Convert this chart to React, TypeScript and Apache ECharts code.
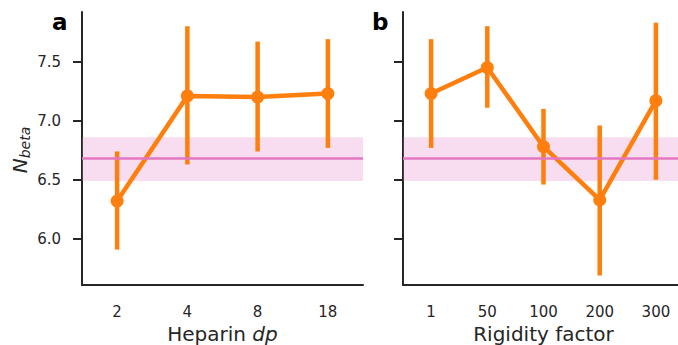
import React, { useEffect, useRef } from "react";
import * as echarts from "echarts";

// Panel a: heparin degree of polymerisation
const heparinDp = ["2", "4", "8", "18"];
const heparinMean = [6.32, 7.21, 7.2, 7.23];
const heparinLow = [5.91, 6.63, 6.74, 6.77];
const heparinHigh = [6.74, 7.8, 7.67, 7.69];

// Panel b: rigidity factor
const rigidity = ["1", "50", "100", "200", "300"];
const rigidityMean = [7.23, 7.45, 6.78, 6.33, 7.17];
const rigidityLow = [6.77, 7.11, 6.46, 5.69, 6.5];
const rigidityHigh = [7.69, 7.8, 7.1, 6.96, 7.83];

// Reference level with its band
const refMean = 6.68;
const refLow = 6.49;
const refHigh = 6.86;

const yTicks = [6.0, 6.5, 7.0, 7.5];
const yMin = 5.61;
const yMax = 7.92;

const ORANGE = "#ff7f0e";
const PINK = "#e377c2";
const INK = "#262626";
const FONT = "DejaVu Sans";

function errorBarSeries(idx: number, low: number[], high: number[]) {
  return {
    type: "custom",
    xAxisIndex: idx,
    yAxisIndex: idx,
    z: 3,
    silent: true,
    encode: { x: 0, y: [1, 2] },
    data: low.map((lo, i) => [i, lo, high[i]]),
    renderItem: (_params: any, api: any) => {
      const i = api.value(0);
      const a = api.coord([i, api.value(1)]);
      const b = api.coord([i, api.value(2)]);
      return {
        type: "line",
        shape: { x1: a[0], y1: a[1], x2: b[0], y2: b[1] },
        style: { stroke: ORANGE, lineWidth: 4.5 },
      };
    },
  };
}

function refSeries(idx: number, n: number) {
  return {
    type: "line",
    xAxisIndex: idx,
    yAxisIndex: idx,
    z: 1,
    silent: true,
    symbol: "none",
    lineStyle: { opacity: 0 },
    data: new Array(n).fill(refMean),
    markArea: {
      silent: true,
      itemStyle: { color: "rgba(227,119,194,0.25)" },
      data: [[{ yAxis: refLow }, { yAxis: refHigh }]],
    },
    markLine: {
      silent: true,
      symbol: ["none", "none"],
      label: { show: false },
      lineStyle: { color: PINK, width: 2.5, type: "solid" },
      data: [{ yAxis: refMean }],
    },
  };
}

function meanSeries(idx: number, values: number[]) {
  return {
    type: "line",
    xAxisIndex: idx,
    yAxisIndex: idx,
    z: 4,
    data: values,
    symbol: "circle",
    symbolSize: 13,
    itemStyle: { color: ORANGE },
    lineStyle: { color: ORANGE, width: 4.5 },
  };
}

function xAxis(idx: number, cats: string[], name: string) {
  return {
    type: "category",
    gridIndex: idx,
    data: cats,
    boundaryGap: true,
    axisLine: { lineStyle: { color: INK, width: 2 } },
    axisTick: { alignWithLabel: true, length: 9, lineStyle: { color: INK, width: 2 } },
    axisLabel: { fontSize: 15, color: INK, margin: 19, fontFamily: FONT },
    splitLine: { show: false },
    name,
    nameLocation: "middle",
    nameGap: 37,
    nameTextStyle: {
      fontSize: 20,
      color: INK,
      fontFamily: FONT,
      rich: { i: { fontSize: 20, fontStyle: "italic", color: INK, fontFamily: FONT } },
    },
  };
}

function yAxis(idx: number, showLabels: boolean) {
  return {
    type: "value",
    gridIndex: idx,
    min: yMin,
    max: yMax,
    axisLine: { show: true, lineStyle: { color: INK, width: 2 } },
    axisTick: { show: true, length: 9, customValues: yTicks, lineStyle: { color: INK, width: 2 } },
    axisLabel: {
      show: showLabels,
      customValues: yTicks,
      formatter: (v: number) => v.toFixed(1),
      fontSize: 15,
      color: INK,
      margin: 21,
      fontFamily: FONT,
    },
    splitLine: { show: false },
  };
}

export default function App() {
  const ref = useRef<HTMLDivElement>(null);

  useEffect(() => {
    document.body.style.margin = "0";
    if (!ref.current) return;
    const chart = echarts.init(ref.current, null, { renderer: "svg" });
    chart.setOption({
      animation: false,
      backgroundColor: "#ffffff",
      grid: [
        { left: 82, top: 12, width: 281, height: 273, containLabel: false, outerBoundsMode: "none" },
        { left: 403, top: 12, width: 281, height: 273, containLabel: false, outerBoundsMode: "none" },
      ],
      xAxis: [
        xAxis(0, heparinDp, "Heparin {i|dp}"),
        xAxis(1, rigidity, "Rigidity factor"),
      ],
      yAxis: [yAxis(0, true), yAxis(1, false)],
      series: [
        refSeries(0, heparinDp.length),
        refSeries(1, rigidity.length),
        errorBarSeries(0, heparinLow, heparinHigh),
        errorBarSeries(1, rigidityLow, rigidityHigh),
        meanSeries(0, heparinMean),
        meanSeries(1, rigidityMean),
      ],
      graphic: [
        {
          type: "text",
          x: 52,
          y: 22,
          style: { text: "a", font: `bold 23px "${FONT}"`, fill: "#000", verticalAlign: "middle" },
        },
        {
          type: "text",
          x: 372,
          y: 22,
          style: { text: "b", font: `bold 23px "${FONT}"`, fill: "#000", verticalAlign: "middle" },
        },
        {
          type: "text",
          x: 20,
          y: 150,
          rotation: Math.PI / 2,
          style: {
            text: "{n|N}{s|beta}",
            align: "center",
            verticalAlign: "middle",
            rich: {
              n: { fontSize: 20, fontStyle: "italic", fontFamily: FONT, fill: INK, lineHeight: 24 },
              s: {
                fontSize: 14,
                fontStyle: "italic",
                fontFamily: FONT,
                fill: INK,
                verticalAlign: "bottom",
                lineHeight: 24,
                padding: [11, 0, 0, 0],
              },
            },
          },
        },
      ],
    });
    return () => chart.dispose();
  }, []);

  return <div ref={ref} style={{ width: 678, height: 345 }} />;
}
